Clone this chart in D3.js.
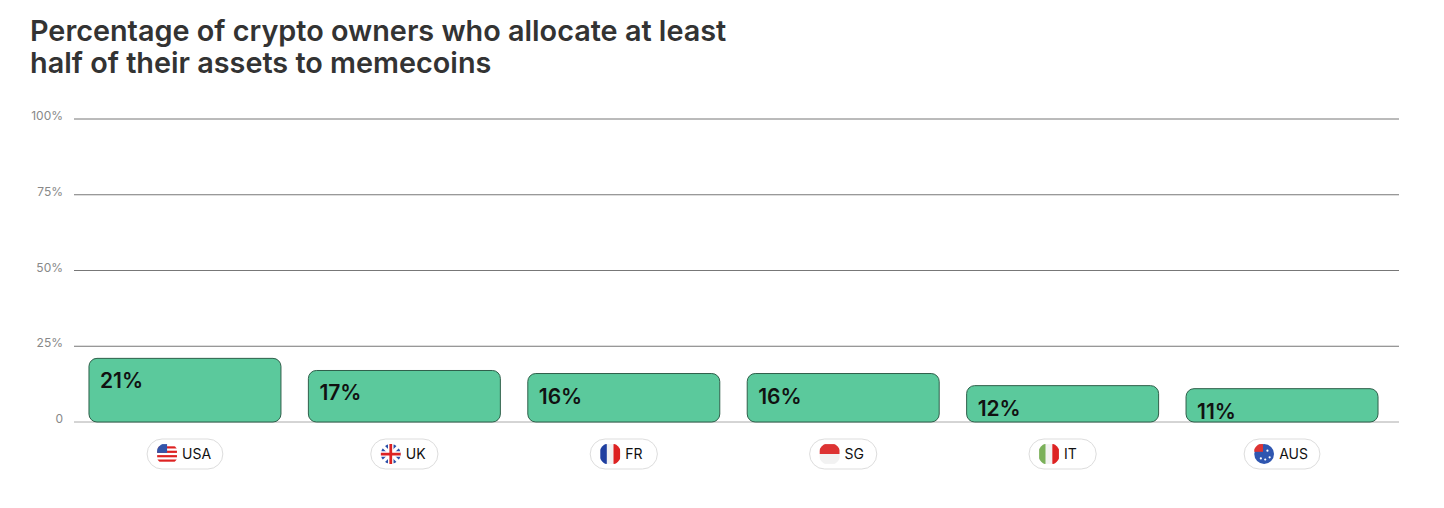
<!DOCTYPE html>
<html><head><meta charset="utf-8">
<script src="https://cdn.jsdelivr.net/npm/d3@7"></script>
<style>body{margin:0;background:#fff;font-family:Inter,"Noto Sans",sans-serif}</style>
</head><body><svg id="c" width="1444" height="508"></svg>
<script>
const countries = ['USA', 'UK', 'FR', 'SG', 'IT', 'AUS'];
const shares = [21, 17, 16, 16, 12, 11];
const ticks = [0, 25, 50, 75, 100];

const svg = d3.select('#c');
svg.append('text').attr('x', 30).attr('y', 41).attr('font-size', 28.8).attr('font-weight', 600).attr('fill', '#333')
  .text('Percentage of crypto owners who allocate at least');
svg.append('text').attr('x', 30).attr('y', 73).attr('font-size', 28.8).attr('font-weight', 600).attr('fill', '#333')
  .text('half of their assets to memecoins');

const x = d3.scaleBand().domain(countries).range([78, 1389]).paddingInner(0.125).paddingOuter(0.05);
const y = d3.scaleLinear().domain([0, 100]).range([422, 119]);

// grid
svg.selectAll('line.grid').data(ticks).join('line')
  .attr('x1', 74).attr('x2', 1399).attr('y1', d => y(d)).attr('y2', d => y(d))
  .attr('stroke', d => d === 0 ? '#aaa' : '#777').attr('stroke-width', 1);
svg.selectAll('text.tick').data(ticks).join('text')
  .attr('x', 63).attr('y', d => y(d) + 1).attr('text-anchor', 'end')
  .attr('font-size', 12).attr('fill', '#888').text(d => d === 0 ? '0' : d + '%');

// bars
const bars = svg.selectAll('g.bar').data(countries).join('g').classed('bar', true);
bars.append('rect')
  .attr('x', d => x(d)).attr('width', x.bandwidth())
  .attr('y', (d, i) => y(shares[i])).attr('height', (d, i) => y(0) - y(shares[i]))
  .attr('rx', 8).attr('fill', '#5bc99c').attr('stroke', '#2f5f4a').attr('stroke-width', 1);
bars.append('text')
  .attr('x', d => x(d) + 11).attr('y', (d, i) => y(shares[i]) + 30)
  .attr('font-size', 21).attr('font-weight', 600).attr('fill', '#111')
  .text((d, i) => shares[i] + '%');

// pill labels with flag circles
const flags = {
  USA: g => { g.append('circle').attr('r', 9).attr('fill', '#fff');
    [-6, -2, 2, 6].forEach(o => g.append('rect').attr('x', -9).attr('y', o - 1).attr('width', 18).attr('height', 2).attr('fill', '#d22'));
    g.append('rect').attr('x', -9).attr('y', -9).attr('width', 9).attr('height', 8).attr('fill', '#3355aa'); },
  UK: g => { g.append('circle').attr('r', 9).attr('fill', '#2a4fa8');
    g.append('path').attr('d', 'M-7,-7L7,7M7,-7L-7,7').attr('stroke', '#fff').attr('stroke-width', 3);
    g.append('path').attr('d', 'M-9,0H9M0,-9V9').attr('stroke', '#fff').attr('stroke-width', 5);
    g.append('path').attr('d', 'M-9,0H9M0,-9V9').attr('stroke', '#d22').attr('stroke-width', 2.5); },
  FR: g => { g.append('rect').attr('x', -9).attr('y', -9).attr('width', 6).attr('height', 18).attr('fill', '#1f3fa0');
    g.append('rect').attr('x', -3).attr('y', -9).attr('width', 6).attr('height', 18).attr('fill', '#f2f2f2');
    g.append('rect').attr('x', 3).attr('y', -9).attr('width', 6).attr('height', 18).attr('fill', '#d22'); },
  SG: g => { g.append('rect').attr('x', -9).attr('y', -9).attr('width', 18).attr('height', 9).attr('fill', '#d33');
    g.append('rect').attr('x', -9).attr('y', 0).attr('width', 18).attr('height', 9).attr('fill', '#f2f2f2'); },
  IT: g => { g.append('rect').attr('x', -9).attr('y', -9).attr('width', 6).attr('height', 18).attr('fill', '#7bb05a');
    g.append('rect').attr('x', -3).attr('y', -9).attr('width', 6).attr('height', 18).attr('fill', '#f2f2f2');
    g.append('rect').attr('x', 3).attr('y', -9).attr('width', 6).attr('height', 18).attr('fill', '#d22'); },
  AUS: g => { g.append('circle').attr('r', 9).attr('fill', '#2f56b0');
    g.append('rect').attr('x', -9).attr('y', -9).attr('width', 8).attr('height', 7).attr('fill', '#d33');
    [[3, -3], [5, 3], [1, 5], [-3, 4]].forEach(p => g.append('circle').attr('cx', p[0]).attr('cy', p[1]).attr('r', 1).attr('fill', '#fff')); }
};
const defs = svg.append('defs');
const labs = svg.selectAll('g.lab').data(countries).join('g').classed('lab', true)
  .attr('transform', d => `translate(${x(d) + x.bandwidth() / 2},454)`);
labs.each(function (d, i) {
  const g = d3.select(this);
  const tw = d.length * 8.6;
  const w = 20 + 8 + tw + 22;
  g.append('rect').attr('x', -w / 2).attr('y', -15).attr('width', w).attr('height', 30).attr('rx', 15)
    .attr('fill', '#fff').attr('stroke', '#ddd');
  defs.append('clipPath').attr('id', 'cl' + i).append('circle').attr('r', 10);
  const f = g.append('g').attr('transform', `translate(${-w / 2 + 20},0) scale(1.1)`).append('g').attr('clip-path', `url(#cl${i})`);
  flags[d](f);
  g.append('text').attr('x', -w / 2 + 35).attr('y', 5).attr('font-size', 14).attr('fill', '#111').text(d);
});
</script></body></html>
